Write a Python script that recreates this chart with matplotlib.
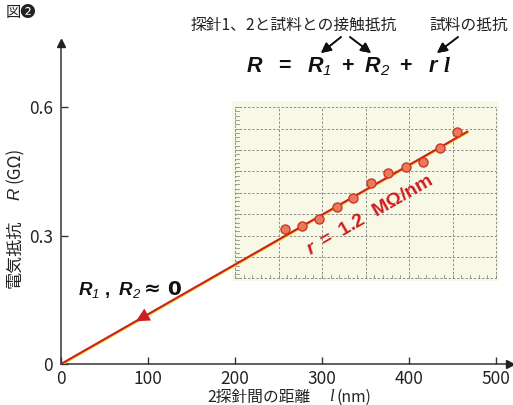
import numpy as np
import matplotlib
matplotlib.use("Agg")
import matplotlib.pyplot as plt
import matplotlib.patheffects as pe
from matplotlib.patches import Rectangle

plt.rcParams['font.family'] = ['Noto Sans CJK JP', 'DejaVu Sans']
plt.rcParams['mathtext.fontset'] = 'custom'
plt.rcParams['mathtext.rm'] = 'Liberation Sans:bold'
plt.rcParams['mathtext.it'] = 'Liberation Sans:bold:italic'
plt.rcParams['mathtext.bf'] = 'Liberation Sans:italic'
plt.rcParams['mathtext.cal'] = 'Liberation Serif:bold:italic'

# ---- data ----
dist_nm = [257, 277, 297, 317, 336, 356, 376, 396, 416, 435, 455]
resist_gohm = [0.315, 0.322, 0.339, 0.367, 0.387, 0.422, 0.447, 0.460, 0.471, 0.505, 0.541]
fit_x = [0, 468]
fit_y = [0, 0.544]
xticks = [0, 100, 200, 300, 400, 500]
xticklabels = ['0', '100', '200', '300', '400', '500']
yticks = [0, 0.3, 0.6]
yticklabels = ['0', '0.3', '0.6']
panel_x = (200, 500)
panel_y = (0.2, 0.6)

W, H = 513, 405
RED = '#cc1f1f'
fig = plt.figure(figsize=(W / 100, H / 100), dpi=100)
ax = fig.add_axes([61 / W, 41 / H, 449 / W, 321 / H])
ax.set_xlim(0, 516)
ax.set_ylim(0, 0.75)

for s in ['top', 'right']:
    ax.spines[s].set_visible(False)
for s in ['left', 'bottom']:
    ax.spines[s].set_color('#333333')
    ax.spines[s].set_linewidth(1.1)

ax.set_xticks(xticks)
ax.set_xticklabels(xticklabels)
ax.set_yticks(yticks)
ax.set_yticklabels(yticklabels)
ax.tick_params(direction='in', length=5, width=1, colors='#333333', labelsize=12.5, pad=6)
ax.tick_params(axis='x', pad=4)
for lbl in ax.get_xticklabels() + ax.get_yticklabels():
    lbl.set_color('#222222')

# axis arrowheads
ax.plot([0], [0.75], marker='^', color='#222222', markersize=6, clip_on=False, zorder=5)
ax.plot([516], [0], marker='>', color='#222222', markersize=6, clip_on=False, zorder=5)

# cream panel with dashed grid
ax.add_patch(Rectangle((panel_x[0] - 3, panel_y[0] - 0.005), panel_x[1] - panel_x[0] + 6,
                       panel_y[1] - panel_y[0] + 0.02, facecolor='#f8f8e6', edgecolor='none', zorder=0))
gx = np.arange(panel_x[0], panel_x[1] + 1, 50)
gy = np.arange(panel_y[0], panel_y[1] + 0.001, 0.05)
for v in gx:
    ax.plot([v, v], panel_y, ls=(0, (2.5, 1.8)), color='#8f8f88', lw=0.7, zorder=1)
for v in gy:
    ax.plot(panel_x, [v, v], ls=(0, (2.5, 1.8)), color='#8f8f88', lw=0.7, zorder=1)
for v in np.arange(panel_y[0], panel_y[1] + 0.001, 0.01):
    ax.plot([panel_x[0], panel_x[0] + 4.5], [v, v], color='#8f8f88', lw=0.6, zorder=1)
for v in np.arange(panel_x[0], panel_x[1] + 1, 10):
    ax.plot([v, v], [panel_y[0], panel_y[0] + 0.009], color='#8f8f88', lw=0.6, zorder=1)

# fit line with thin yellow shadow
ax.plot(fit_x, fit_y, color=RED, lw=1.5, zorder=3, solid_capstyle='butt',
        path_effects=[pe.SimpleLineShadow(offset=(0.2, -0.6), shadow_color='#f2d21a', alpha=1, rho=1),
                      pe.Normal()])
# data points
ax.plot(dist_nm, resist_gohm, 'o', markersize=6.5, markerfacecolor='#ec7a5a',
        markeredgecolor='#c8392a', markeredgewidth=1.0, zorder=4)

# arrow on the line
ax.annotate('', xy=(86, 0.0998), xytext=(104, 0.1206),
            arrowprops=dict(arrowstyle='-|>,head_length=0.7,head_width=0.35', color=RED,
                            lw=0.01, shrinkA=0, shrinkB=0, mutation_scale=14), zorder=5)

# annotations in axes
ax.text(19, 0.173, r'$\mathit{R}_{\mathbf{1}}\mathrm{\ ,\ }\mathit{R}_{\mathbf{2}}$',
        fontsize=13.5, ha='left', va='center', color='#111111')
ax.text(95, 0.173, '≈ 0', fontsize=14.5, ha='left', va='center', color='#111111',
        family='DejaVu Sans', weight='bold')
ax.text(354, 0.349, r'$\mathit{r}\mathrm{\ =\ 1.2\ \ M\Omega/nm}$', fontsize=14, color=RED,
        rotation=30, rotation_mode='anchor', ha='center', va='center', zorder=6)

def fx(px):
    return px / W

def fy(py):
    return 1 - py / H

# title marker
fig.text(fx(6), fy(13), '図❷', fontsize=11, ha='left', va='center', color='#222222')

# equation and labels
fig.text(fx(246), fy(67),
         r'$\mathit{R}\ \ \mathrm{=}\ \ \mathit{R}_{\mathbf{1}}\mathrm{\ +\ }\mathit{R}_{\mathbf{2}}\mathrm{\ +\ \ }\mathit{r}\ \mathcal{l}$',
         fontsize=15.5, ha='left', va='center', color='#111111')
fig.text(fx(191), fy(25), '探針1、2と試料との接触抵抗', fontsize=11.3, ha='left', va='center', color='#222222')
fig.text(fx(429), fy(25), '試料の抵抗', fontsize=11.3, ha='left', va='center', color='#222222')

arrow_kw = dict(arrowstyle='-|>,head_length=0.5,head_width=0.25', color='#111111', lw=1.2,
                shrinkA=0, shrinkB=0, mutation_scale=12)
for (x0, y0, x1, y1) in [(341, 37, 321, 53), (350, 37, 371, 53), (458, 37, 437, 53)]:
    fig.add_artist(plt.annotate('', xy=(x1, H - y1), xytext=(x0, H - y0), xycoords='figure pixels',
                                textcoords='figure pixels', arrowprops=arrow_kw))

# axis labels
fig.text(fx(207), fy(397), '2探針間の距離', fontsize=11.3, ha='left', va='center', color='#222222')
fig.text(fx(329), fy(397), 'l', fontsize=12, ha='left', va='center', color='#222222',
         family='Liberation Serif', style='italic')
fig.text(fx(337), fy(397), '(nm)', fontsize=11.3, ha='left', va='center', color='#222222')

fig.text(fx(15), fy(288), '電気抵抗', fontsize=12.3, rotation=90, ha='center', va='bottom', color='#222222')
fig.text(fx(15), fy(200), 'R', fontsize=12.3, rotation=90, ha='center', va='bottom', color='#222222',
         family='Liberation Sans', style='italic')
fig.text(fx(15), fy(183), '(GΩ)', fontsize=12.3, rotation=90, ha='center', va='bottom', color='#222222')

fig.savefig('out.png', dpi=100, facecolor='white')
